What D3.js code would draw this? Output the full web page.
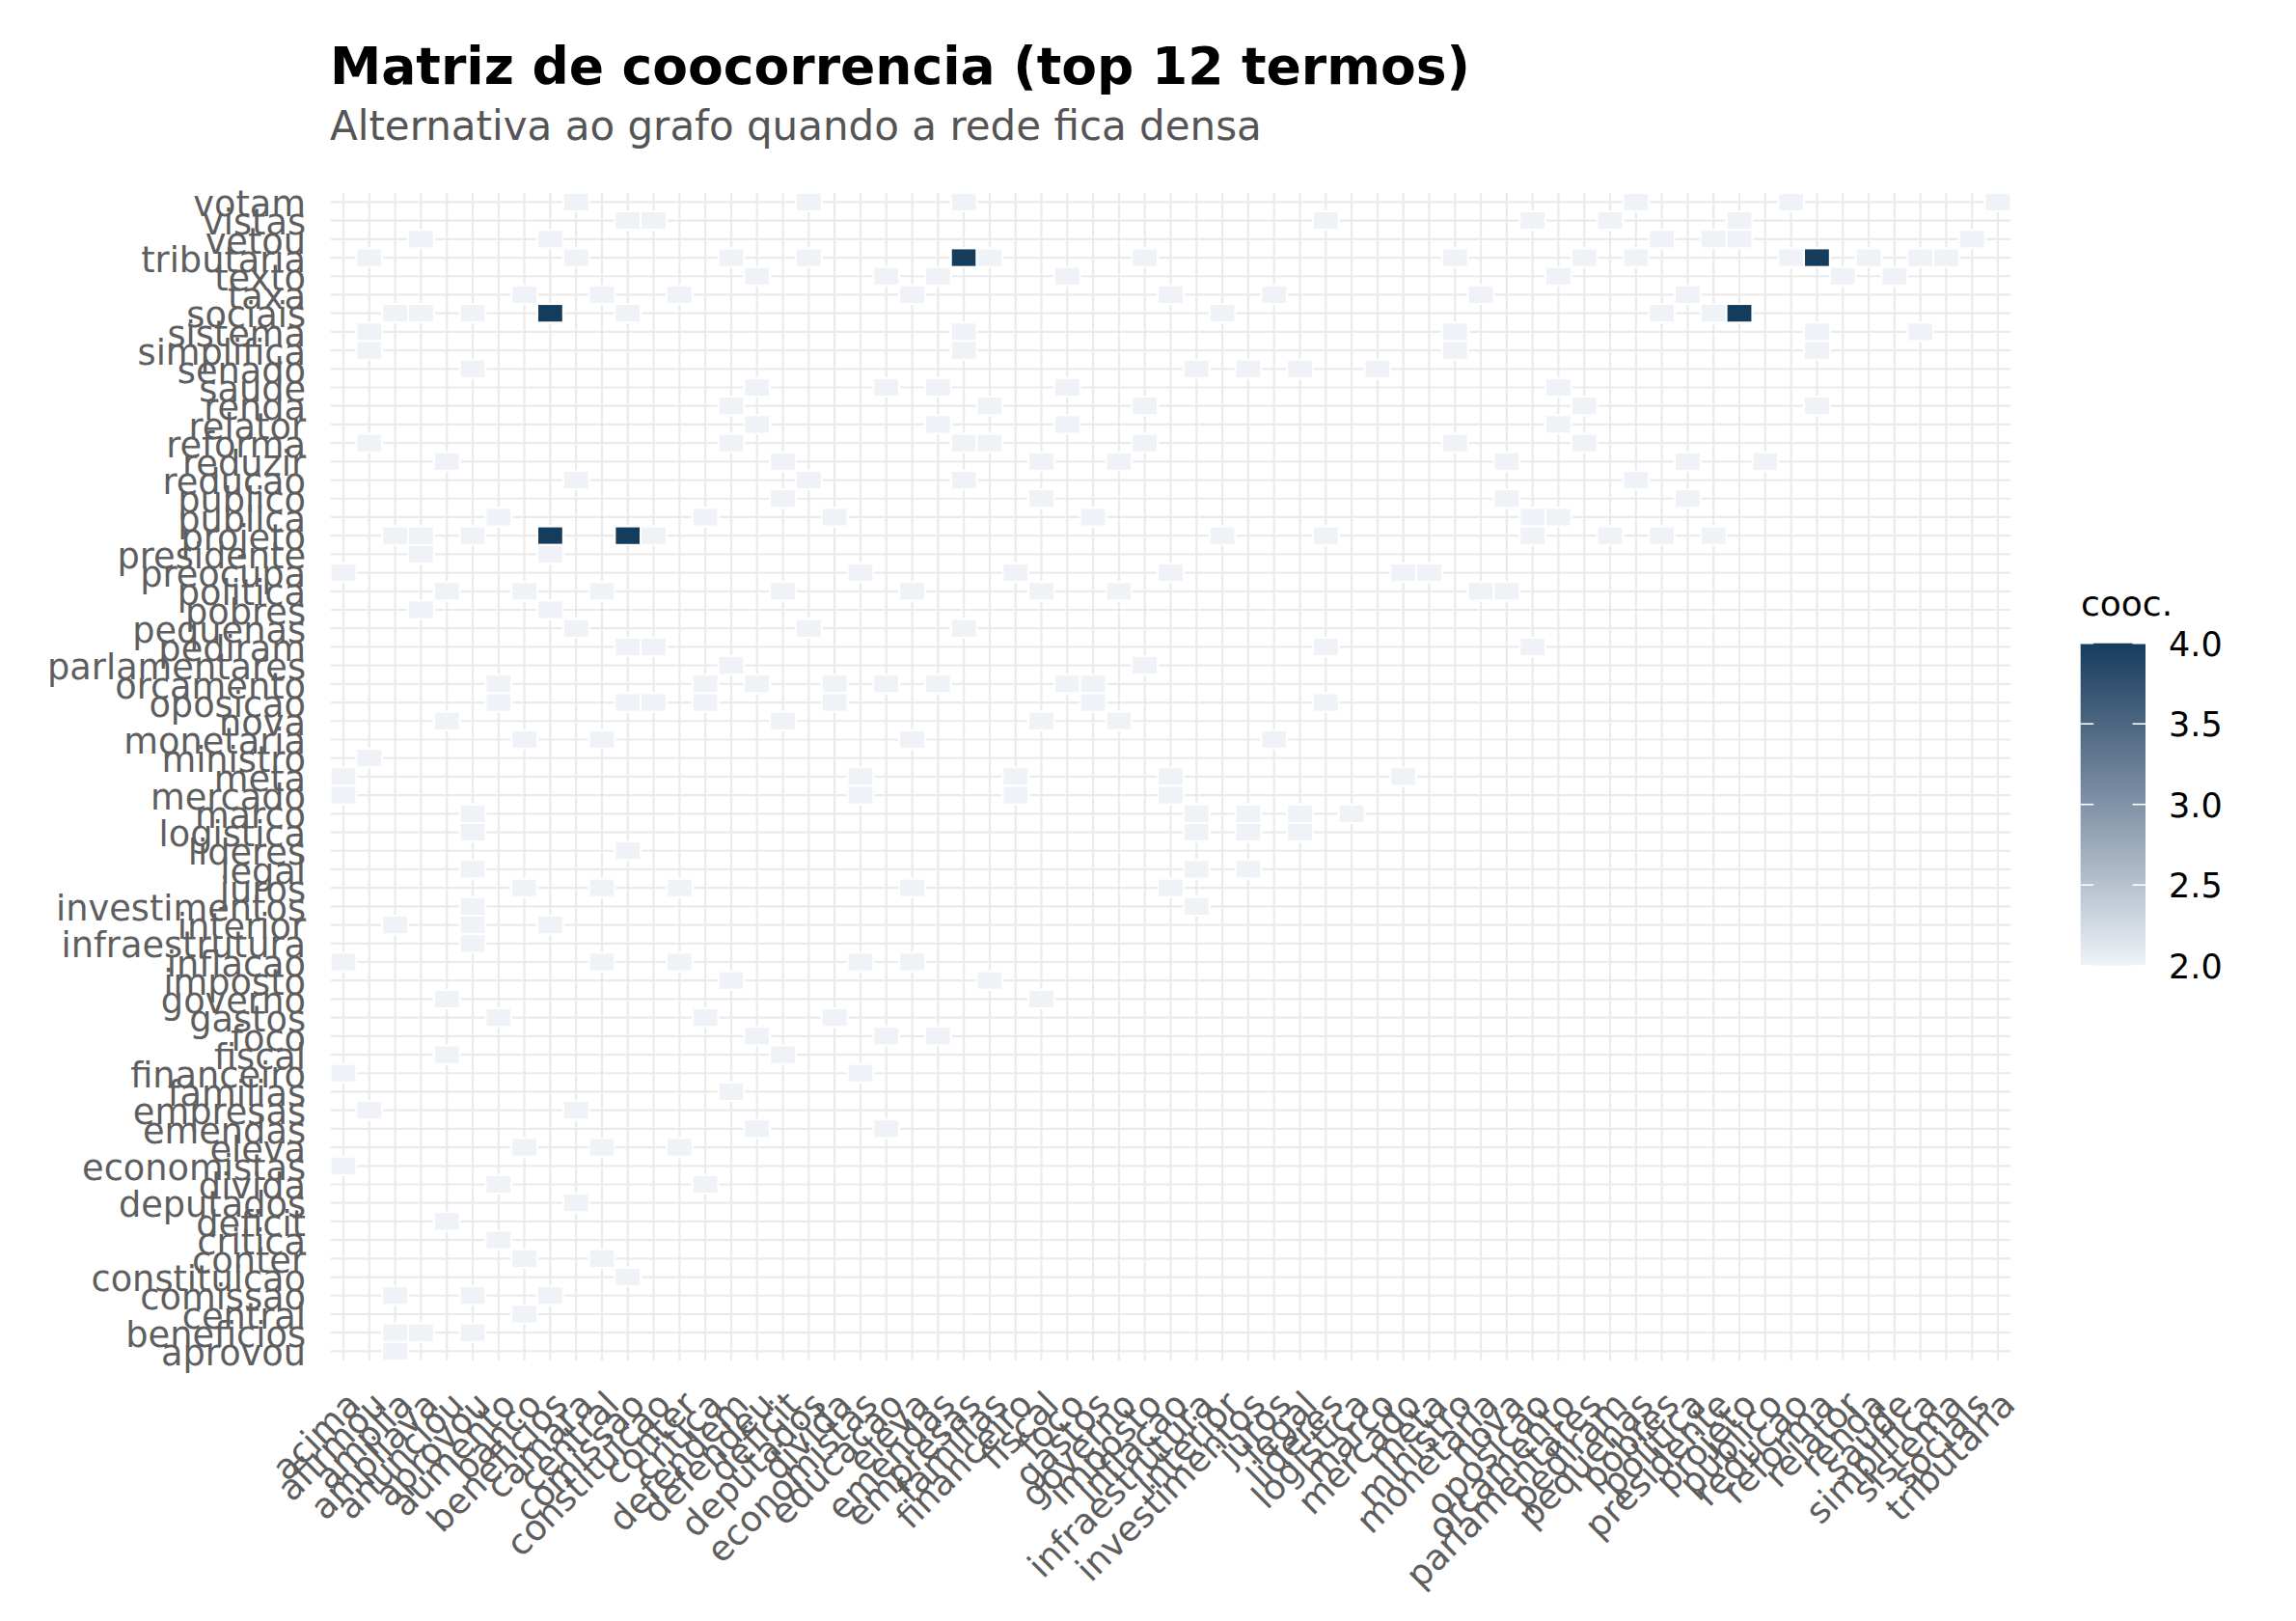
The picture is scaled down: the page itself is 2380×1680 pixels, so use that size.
<!DOCTYPE html>
<html>
<head>
<meta charset="utf-8">
<script src="https://cdn.jsdelivr.net/npm/d3@7"></script>
<style>
  body { margin: 0; background: #fff; }
</style>
</head>
<body>
<script>
// termos do eixo x (item1) e do eixo y (item2), em ordem alfabetica
var termosX = ["acima","afirmou","amplia","ampliava","anunciou","aprovou","aumento","banco",
  "beneficios","camara","central","comissao","constituicao","conter","critica","defendem",
  "defendeu","deficit","deputados","divida","economistas","educacao","eleva","emendas",
  "empresas","familias","financeiro","fiscal","foco","gastos","governo","imposto","inflacao",
  "infraestrutura","interior","investimentos","juros","legal","lideres","logistica","marco",
  "mercado","meta","ministro","monetaria","nova","oposicao","orcamento","parlamentares",
  "pediram","pequenas","pobres","politica","presidente","projeto","publico","reducao",
  "reforma","relator","renda","saude","simplifica","sistema","sociais","tributaria"];

var termosY = ["aprovou","beneficios","central","comissao","constituicao","conter","critica",
  "deficit","deputados","divida","economistas","eleva","emendas","empresas","familias",
  "financeiro","fiscal","foco","gastos","governo","imposto","inflacao","infraestrutura",
  "interior","investimentos","juros","legal","lideres","logistica","marco","mercado","meta",
  "ministro","monetaria","nova","oposicao","orcamento","parlamentares","pediram","pequenas",
  "pobres","politica","preocupa","presidente","projeto","publica","publico","reducao",
  "reduzir","reforma","relator","renda","saude","senado","simplifica","sistema","sociais",
  "taxa","texto","tributaria","vetou","vistas","votam"];

// [termo x, termo y, coocorrencias]
var pares = [
  ["camara","votam",2],["deputados","votam",2],["empresas","votam",2],["pequenas","votam",2],["reducao","votam",2],["tributaria","votam",2],
  ["comissao","vistas",2],["constituicao","vistas",2],["lideres","vistas",2],["oposicao","vistas",2],["pediram","vistas",2],["projeto","vistas",2],
  ["ampliava","vetou",2],["beneficios","vetou",2],["pobres","vetou",2],["presidente","vetou",2],["projeto","vetou",2],["sociais","vetou",2],
  ["afirmou","tributaria",2],["camara","tributaria",2],["defendem","tributaria",2],["deputados","tributaria",2],["empresas","tributaria",4],
  ["familias","tributaria",2],["imposto","tributaria",2],["ministro","tributaria",2],["parlamentares","tributaria",2],["pequenas","tributaria",2],
  ["reducao","tributaria",2],["reforma","tributaria",4],["renda","tributaria",2],["simplifica","tributaria",2],["sistema","tributaria",2],
  ["defendeu","texto",2],["educacao","texto",2],["emendas","texto",2],["foco","texto",2],["orcamento","texto",2],["relator","texto",2],["saude","texto",2],
  ["banco","taxa",2],["central","taxa",2],["conter","taxa",2],["eleva","taxa",2],["inflacao","taxa",2],["juros","taxa",2],["monetaria","taxa",2],["politica","taxa",2],
  ["amplia","sociais",2],["ampliava","sociais",2],["aprovou","sociais",2],["beneficios","sociais",4],["comissao","sociais",2],
  ["interior","sociais",2],["pobres","sociais",2],["presidente","sociais",2],["projeto","sociais",4],
  ["afirmou","sistema",2],["empresas","sistema",2],["ministro","sistema",2],["reforma","sistema",2],["simplifica","sistema",2],
  ["afirmou","simplifica",2],["empresas","simplifica",2],["ministro","simplifica",2],["reforma","simplifica",2],
  ["aprovou","senado",2],["infraestrutura","senado",2],["investimentos","senado",2],["legal","senado",2],["marco","senado",2],
  ["defendeu","saude",2],["educacao","saude",2],["emendas","saude",2],["foco","saude",2],["orcamento","saude",2],
  ["defendem","renda",2],["familias","renda",2],["imposto","renda",2],["parlamentares","renda",2],["reforma","renda",2],
  ["defendeu","relator",2],["emendas","relator",2],["foco","relator",2],["orcamento","relator",2],
  ["afirmou","reforma",2],["defendem","reforma",2],["empresas","reforma",2],["familias","reforma",2],["imposto","reforma",2],["ministro","reforma",2],["parlamentares","reforma",2],
  ["anunciou","reduzir",2],["deficit","reduzir",2],["fiscal","reduzir",2],["governo","reduzir",2],["nova","reduzir",2],["politica","reduzir",2],["publico","reduzir",2],
  ["camara","reducao",2],["deputados","reducao",2],["empresas","reducao",2],["pequenas","reducao",2],
  ["deficit","publico",2],["fiscal","publico",2],["nova","publico",2],["politica","publico",2],
  ["aumento","publica",2],["critica","publica",2],["divida","publica",2],["gastos","publica",2],["oposicao","publica",2],["orcamento","publica",2],
  ["amplia","projeto",2],["ampliava","projeto",2],["aprovou","projeto",2],["beneficios","projeto",4],["comissao","projeto",4],["constituicao","projeto",2],
  ["interior","projeto",2],["lideres","projeto",2],["oposicao","projeto",2],["pediram","projeto",2],["pobres","projeto",2],["presidente","projeto",2],
  ["ampliava","presidente",2],["beneficios","presidente",2],
  ["acima","preocupa",2],["economistas","preocupa",2],["financeiro","preocupa",2],["inflacao","preocupa",2],["mercado","preocupa",2],["meta","preocupa",2],
  ["anunciou","politica",2],["banco","politica",2],["central","politica",2],["deficit","politica",2],["eleva","politica",2],
  ["fiscal","politica",2],["governo","politica",2],["monetaria","politica",2],["nova","politica",2],
  ["ampliava","pobres",2],["beneficios","pobres",2],
  ["camara","pequenas",2],["deputados","pequenas",2],["empresas","pequenas",2],
  ["comissao","pediram",2],["constituicao","pediram",2],["lideres","pediram",2],["oposicao","pediram",2],
  ["defendem","parlamentares",2],["imposto","parlamentares",2],
  ["aumento","orcamento",2],["critica","orcamento",2],["defendeu","orcamento",2],["divida","orcamento",2],
  ["educacao","orcamento",2],["emendas","orcamento",2],["foco","orcamento",2],["gastos","orcamento",2],
  ["aumento","oposicao",2],["comissao","oposicao",2],["constituicao","oposicao",2],["critica","oposicao",2],["divida","oposicao",2],["gastos","oposicao",2],["lideres","oposicao",2],
  ["anunciou","nova",2],["deficit","nova",2],["fiscal","nova",2],["governo","nova",2],
  ["banco","monetaria",2],["central","monetaria",2],["eleva","monetaria",2],["juros","monetaria",2],
  ["afirmou","ministro",2],
  ["acima","meta",2],["economistas","meta",2],["financeiro","meta",2],["inflacao","meta",2],["mercado","meta",2],
  ["acima","mercado",2],["economistas","mercado",2],["financeiro","mercado",2],["inflacao","mercado",2],
  ["aprovou","marco",2],["infraestrutura","marco",2],["investimentos","marco",2],["legal","marco",2],["logistica","marco",2],
  ["aprovou","logistica",2],["infraestrutura","logistica",2],["investimentos","logistica",2],["legal","logistica",2],
  ["comissao","lideres",2],
  ["aprovou","legal",2],["infraestrutura","legal",2],["investimentos","legal",2],
  ["banco","juros",2],["central","juros",2],["conter","juros",2],["eleva","juros",2],["inflacao","juros",2],
  ["aprovou","investimentos",2],["infraestrutura","investimentos",2],
  ["amplia","interior",2],["aprovou","interior",2],["beneficios","interior",2],
  ["aprovou","infraestrutura",2],
  ["acima","inflacao",2],["central","inflacao",2],["conter","inflacao",2],["economistas","inflacao",2],["eleva","inflacao",2],
  ["defendem","imposto",2],["familias","imposto",2],
  ["anunciou","governo",2],["fiscal","governo",2],
  ["aumento","gastos",2],["critica","gastos",2],["divida","gastos",2],
  ["defendeu","foco",2],["educacao","foco",2],["emendas","foco",2],
  ["anunciou","fiscal",2],["deficit","fiscal",2],
  ["acima","financeiro",2],["economistas","financeiro",2],
  ["defendem","familias",2],
  ["afirmou","empresas",2],["camara","empresas",2],
  ["defendeu","emendas",2],["educacao","emendas",2],
  ["banco","eleva",2],["central","eleva",2],["conter","eleva",2],
  ["acima","economistas",2],
  ["aumento","divida",2],["critica","divida",2],
  ["camara","deputados",2],
  ["anunciou","deficit",2],
  ["aumento","critica",2],
  ["banco","conter",2],["central","conter",2],
  ["comissao","constituicao",2],
  ["amplia","comissao",2],["aprovou","comissao",2],["beneficios","comissao",2],
  ["banco","central",2],
  ["amplia","beneficios",2],["ampliava","beneficios",2],["aprovou","beneficios",2],
  ["amplia","aprovou",2]
];

var legendaValores = [2.0, 2.5, 3.0, 3.5, 4.0];

var titulo = "Matriz de coocorrencia (top 12 termos)";
var subtitulo = "Alternativa ao grafo quando a rede fica densa";
var tituloLegenda = "cooc.";

var largura = 2380, altura = 1680;
var painel = {esq: 342.6, dir: 2084.4, topo: 199.8, base: 1410};
var fonte = "DejaVu Sans, sans-serif";
var corTexto = "#5e5e5e";

var svg = d3.select("body").append("svg")
    .attr("width", largura)
    .attr("height", altura)
    .style("font-family", fonte);

svg.append("rect").attr("width", largura).attr("height", altura).attr("fill", "#fff");

var x = d3.scaleBand().domain(termosX).range([painel.esq, painel.dir]);
var y = d3.scaleBand().domain(termosY.slice().reverse()).range([painel.topo, painel.base]);

var cor = d3.scaleLinear()
    .domain([2, 4])
    .range(["#eff3f8", "#143d5d"])
    .interpolate(d3.interpolateLab);

// grade
var grade = svg.append("g").attr("stroke", "#ebebeb").attr("stroke-width", 2.2);
grade.selectAll(".gx").data(termosX).enter().append("line")
    .attr("class", "gx")
    .attr("x1", function(d) { return x(d) + x.bandwidth() / 2; })
    .attr("x2", function(d) { return x(d) + x.bandwidth() / 2; })
    .attr("y1", painel.topo)
    .attr("y2", painel.base);
grade.selectAll(".gy").data(termosY).enter().append("line")
    .attr("class", "gy")
    .attr("x1", painel.esq)
    .attr("x2", painel.dir)
    .attr("y1", function(d) { return y(d) + y.bandwidth() / 2; })
    .attr("y2", function(d) { return y(d) + y.bandwidth() / 2; });

// celulas
svg.append("g").selectAll("rect")
    .data(pares)
  .enter().append("rect")
    .attr("x", function(d) { return x(d[0]); })
    .attr("y", function(d) { return y(d[1]); })
    .attr("width", x.bandwidth())
    .attr("height", y.bandwidth())
    .attr("fill", function(d) { return cor(d[2]); })
    .attr("stroke", "#fff")
    .attr("stroke-width", 2);

// eixos
var eixoY = svg.append("g")
    .attr("transform", "translate(" + painel.esq + ",0)")
    .call(d3.axisLeft(y).tickSize(0).tickPadding(25.6));
eixoY.select(".domain").remove();
eixoY.attr("font-family", fonte).attr("font-size", 36.7);
eixoY.selectAll("text").attr("dy", "0.4em").attr("fill", corTexto);

var eixoX = svg.append("g")
    .attr("transform", "translate(0," + painel.base + ")")
    .call(d3.axisBottom(x).tickSize(0));
eixoX.select(".domain").remove();
eixoX.attr("font-family", fonte).attr("font-size", 36.7);
eixoX.selectAll("text")
    .attr("x", 0)
    .attr("y", 0)
    .attr("dy", "0.73em")
    .attr("transform", "translate(1,29) rotate(-45)")
    .attr("fill", corTexto)
    .style("text-anchor", "end");

// titulos
svg.append("text")
    .attr("x", 342).attr("y", 87)
    .attr("font-size", 53.5).attr("font-weight", "bold").attr("fill", "#000")
    .text(titulo);
svg.append("text")
    .attr("x", 342).attr("y", 145)
    .attr("font-size", 42).attr("fill", "#555")
    .text(subtitulo);

// legenda
var leg = {x: 2156.7, w: 67.3};
var escalaLeg = d3.scaleLinear().domain([2, 4]).range([1000.7, 666.7]);

var grad = svg.append("defs").append("linearGradient")
    .attr("id", "gradCooc")
    .attr("x1", 0).attr("y1", 1).attr("x2", 0).attr("y2", 0);
grad.selectAll("stop").data(d3.range(0, 1.0001, 0.05)).enter().append("stop")
    .attr("offset", function(t) { return t; })
    .attr("stop-color", function(t) { return cor(2 + 2 * t); });

svg.append("rect")
    .attr("x", leg.x).attr("y", escalaLeg(4))
    .attr("width", leg.w).attr("height", escalaLeg(2) - escalaLeg(4))
    .attr("fill", "url(#gradCooc)");

var marcas = svg.append("g").attr("stroke", "#fff").attr("stroke-width", 1.6);
marcas.selectAll(".me").data(legendaValores).enter().append("line")
    .attr("class", "me")
    .attr("x1", leg.x).attr("x2", leg.x + 13.5)
    .attr("y1", function(d) { return escalaLeg(d); })
    .attr("y2", function(d) { return escalaLeg(d); });
marcas.selectAll(".md").data(legendaValores).enter().append("line")
    .attr("class", "md")
    .attr("x1", leg.x + leg.w - 13.5).attr("x2", leg.x + leg.w)
    .attr("y1", function(d) { return escalaLeg(d); })
    .attr("y2", function(d) { return escalaLeg(d); });

var eixoLeg = svg.append("g")
    .attr("transform", "translate(" + (leg.x + leg.w) + ",0)")
    .call(d3.axisRight(escalaLeg).tickValues(legendaValores).tickFormat(d3.format(".1f")).tickSize(0).tickPadding(24));
eixoLeg.select(".domain").remove();
eixoLeg.attr("font-family", fonte).attr("font-size", 35);
eixoLeg.selectAll("text").attr("dy", "0.36em").attr("fill", "#000");

svg.append("text")
    .attr("x", 2157).attr("y", 638)
    .attr("font-size", 36).attr("fill", "#000")
    .text(tituloLegenda);
</script>
</body>
</html>
